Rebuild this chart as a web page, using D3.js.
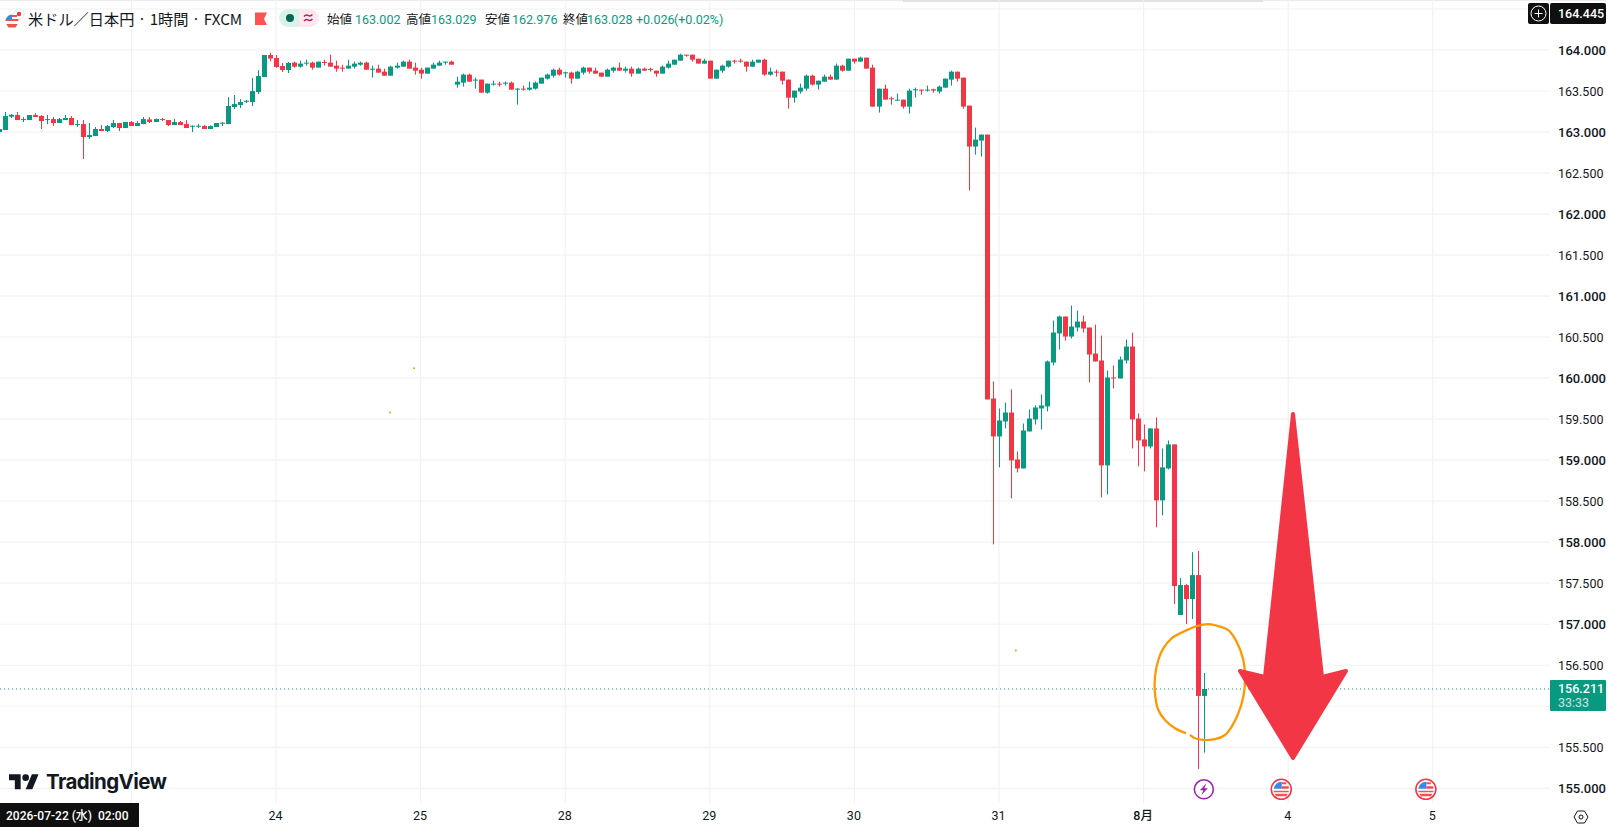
<!DOCTYPE html>
<html>
<head>
<meta charset="utf-8">
<style>
    html, body { margin: 0; background: #fff; }
    svg { display: block; }
    text { font-family: Roboto, "Noto Sans CJK JP", sans-serif; }
</style>
</head>
<body>
<div id="chart"></div>
<script src="https://cdn.jsdelivr.net/npm/d3@7"></script>
<script>
// hour 0 is the 00:00 candle of the 24th
const firstHour = -46

const opens = [
    163.000, 163.024, 163.187, 163.207, 163.146, 163.146, 163.207, 163.195, 163.146, 163.158,
    163.110, 163.146, 163.171, 163.085, 163.097, 162.939, 162.951, 163.037, 163.012, 163.061,
    163.110, 163.049, 163.122, 163.073, 163.097, 163.154,
    163.122, 163.158, 163.146, 163.085, 163.122, 163.097, 163.069, 163.069, 163.073, 163.037,
    163.061, 163.101, 163.097, 163.305, 163.329, 163.369, 163.365, 163.487, 163.670,
    163.939, 163.902, 163.805, 163.756,
    163.846, 163.797, 163.834, 163.846, 163.785, 163.854, 163.846, 163.809, 163.785, 163.773,
    163.797, 163.821, 163.846, 163.760, 163.773, 163.736, 163.687, 163.785, 163.797, 163.858,
    163.785, 163.760, 163.712, 163.773, 163.809, 163.846, 163.858, 163.578, 163.602, 163.700,
    163.631, 163.639, 163.480, 163.578, 163.590, 163.590, 163.602, 163.521, 163.529, 163.517,
    163.529, 163.590, 163.651, 163.687, 163.760, 163.720, 163.724, 163.651, 163.724, 163.785,
    163.748, 163.724, 163.675, 163.748, 163.785, 163.748, 163.773, 163.712, 163.773, 163.769,
    163.748, 163.712, 163.785, 163.821, 163.870, 163.943, 163.943, 163.894, 163.834, 163.870,
    163.651, 163.748, 163.797, 163.870, 163.870, 163.858, 163.797, 163.846, 163.882, 163.700,
    163.736, 163.736, 163.639, 163.419, 163.493, 163.529, 163.687, 163.578, 163.614, 163.675,
    163.639, 163.809, 163.748, 163.894, 163.858, 163.907, 163.785, 163.310, 163.529, 163.411,
    163.383, 163.395, 163.310, 163.513, 163.517, 163.505, 163.521, 163.493, 163.541, 163.639,
    163.736, 163.663, 163.322, 162.823, 162.896, 162.969, 159.752, 159.289, 159.472, 159.581,
    159.009, 158.899, 159.350, 159.496, 159.630, 159.655, 160.190, 160.544, 160.751, 160.507,
    160.617, 160.690, 160.617, 160.300, 160.215, 158.936, 160.008, 159.996, 160.215, 160.385,
    159.508, 159.253, 159.167, 159.387, 158.510, 158.899, 159.192, 157.112, 157.477, 157.307,
    157.599, 156.126
]

const highs = [
    163.037, 163.244, 163.219, 163.244, 163.183, 163.207, 163.231, 163.207, 163.207, 163.183,
    163.171, 163.207, 163.195, 163.146, 163.146, 163.110, 163.061, 163.085, 163.085, 163.146,
    163.110, 163.122, 163.134, 163.134, 163.183, 163.183,
    163.166, 163.171, 163.146, 163.158, 163.134, 163.146, 163.081, 163.097, 163.085, 163.081,
    163.110, 163.122, 163.426, 163.451, 163.402, 163.390, 163.658, 163.755, 163.939,
    163.967, 163.939, 163.842, 163.854,
    163.858, 163.870, 163.882, 163.858, 163.858, 163.882, 163.943, 163.870, 163.821, 163.882,
    163.858, 163.858, 163.858, 163.809, 163.821, 163.773, 163.809, 163.846, 163.870, 163.882,
    163.846, 163.785, 163.785, 163.846, 163.870, 163.858, 163.870, 163.675, 163.712, 163.712,
    163.663, 163.639, 163.590, 163.626, 163.614, 163.614, 163.614, 163.537, 163.566, 163.614,
    163.614, 163.663, 163.712, 163.773, 163.785, 163.736, 163.736, 163.748, 163.797, 163.785,
    163.785, 163.724, 163.773, 163.797, 163.846, 163.797, 163.797, 163.785, 163.785, 163.785,
    163.748, 163.809, 163.870, 163.882, 163.955, 163.943, 163.943, 163.894, 163.894, 163.870,
    163.760, 163.821, 163.870, 163.882, 163.894, 163.858, 163.882, 163.882, 163.894, 163.785,
    163.760, 163.736, 163.639, 163.505, 163.590, 163.700, 163.700, 163.626, 163.700, 163.700,
    163.834, 163.821, 163.894, 163.894, 163.919, 163.907, 163.821, 163.529, 163.578, 163.432,
    163.468, 163.395, 163.529, 163.541, 163.517, 163.566, 163.529, 163.566, 163.651, 163.748,
    163.736, 163.663, 163.322, 163.054, 162.969, 162.969, 159.959, 159.630, 159.703, 159.862,
    159.106, 159.447, 159.618, 159.667, 159.801, 160.215, 160.702, 160.763, 160.751, 160.885,
    160.824, 160.763, 160.617, 160.653, 160.519, 160.093, 160.154, 160.264, 160.471, 160.556,
    159.569, 159.435, 159.387, 159.521, 159.143, 159.240, 159.192, 157.563, 157.490, 157.879,
    157.892, 156.406
]

const lows = [
    162.995, 163.024, 163.171, 163.146, 163.122, 163.146, 163.183, 163.037, 163.097, 163.073,
    163.110, 163.146, 163.085, 163.061, 162.671, 162.915, 162.951, 163.012, 163.000, 163.049,
    163.012, 163.049, 163.073, 163.073, 163.097, 163.110,
    163.122, 163.134, 163.073, 163.085, 163.085, 163.049, 163.000, 163.049, 163.037, 163.037,
    163.061, 163.073, 163.097, 163.280, 163.292, 163.353, 163.317, 163.463, 163.670,
    163.862, 163.784, 163.732, 163.720,
    163.785, 163.785, 163.809, 163.760, 163.785, 163.809, 163.797, 163.736, 163.736, 163.773,
    163.773, 163.809, 163.760, 163.663, 163.724, 163.687, 163.687, 163.773, 163.797, 163.773,
    163.700, 163.651, 163.712, 163.773, 163.809, 163.821, 163.821, 163.541, 163.553, 163.614,
    163.529, 163.480, 163.468, 163.566, 163.553, 163.566, 163.517, 163.334, 163.505, 163.505,
    163.517, 163.590, 163.639, 163.663, 163.687, 163.663, 163.590, 163.651, 163.700, 163.712,
    163.712, 163.675, 163.675, 163.724, 163.748, 163.724, 163.675, 163.712, 163.748, 163.736,
    163.675, 163.712, 163.773, 163.821, 163.870, 163.919, 163.858, 163.834, 163.834, 163.651,
    163.651, 163.724, 163.785, 163.834, 163.846, 163.736, 163.797, 163.846, 163.687, 163.687,
    163.675, 163.578, 163.285, 163.359, 163.468, 163.505, 163.566, 163.517, 163.614, 163.639,
    163.639, 163.736, 163.748, 163.834, 163.858, 163.773, 163.310, 163.237, 163.395, 163.334,
    163.383, 163.285, 163.225, 163.419, 163.456, 163.493, 163.480, 163.468, 163.541, 163.566,
    163.614, 163.285, 162.287, 162.725, 162.701, 159.740, 157.974, 158.912, 159.387, 158.534,
    158.851, 158.899, 159.350, 159.435, 159.374, 159.594, 160.154, 160.349, 160.458, 160.483,
    160.568, 160.556, 159.947, 160.203, 158.546, 158.583, 159.874, 159.996, 160.178, 159.143,
    158.924, 158.863, 159.143, 158.181, 158.327, 158.887, 157.246, 157.112, 157.002, 157.063,
    155.236, 155.435
]

const closes = [
    163.037, 163.195, 163.211, 163.146, 163.158, 163.207, 163.183, 163.134, 163.158, 163.110,
    163.158, 163.171, 163.085, 163.097, 162.939, 162.963, 163.037, 163.012, 163.073, 163.110,
    163.049, 163.122, 163.073, 163.110, 163.158, 163.122,
    163.158, 163.150, 163.085, 163.122, 163.085, 163.049, 163.077, 163.077, 163.037, 163.073,
    163.110, 163.114, 163.317, 163.341, 163.365, 163.382, 163.499, 163.682, 163.939,
    163.896, 163.793, 163.756, 163.842,
    163.797, 163.834, 163.846, 163.785, 163.858, 163.842, 163.797, 163.773, 163.773, 163.809,
    163.834, 163.846, 163.760, 163.773, 163.724, 163.687, 163.797, 163.809, 163.858, 163.773,
    163.748, 163.712, 163.785, 163.821, 163.846, 163.858, 163.821, 163.614, 163.700, 163.614,
    163.639, 163.480, 163.590, 163.590, 163.582, 163.602, 163.517, 163.529, 163.521, 163.541,
    163.602, 163.663, 163.700, 163.760, 163.700, 163.728, 163.651, 163.736, 163.785, 163.736,
    163.712, 163.675, 163.760, 163.785, 163.748, 163.773, 163.712, 163.773, 163.748, 163.756,
    163.712, 163.797, 163.834, 163.882, 163.943, 163.935, 163.882, 163.834, 163.870, 163.651,
    163.760, 163.809, 163.870, 163.862, 163.862, 163.797, 163.858, 163.882, 163.700, 163.736,
    163.724, 163.626, 163.419, 163.505, 163.541, 163.687, 163.578, 163.626, 163.675, 163.639,
    163.809, 163.748, 163.894, 163.858, 163.907, 163.773, 163.310, 163.529, 163.395, 163.403,
    163.395, 163.310, 163.505, 163.521, 163.509, 163.517, 163.505, 163.553, 163.651, 163.736,
    163.651, 163.310, 162.823, 162.908, 162.969, 159.740, 159.289, 159.484, 159.581, 158.997,
    158.899, 159.362, 159.508, 159.642, 159.667, 160.203, 160.556, 160.751, 160.507, 160.629,
    160.690, 160.605, 160.288, 160.203, 158.936, 160.008, 159.996, 160.227, 160.385, 159.496,
    159.240, 159.167, 159.387, 158.510, 158.912, 159.192, 157.465, 157.477, 157.307, 157.599,
    156.126, 156.211
]

const priceTicks = [164, 163.5, 163, 162.5, 162, 161.5, 161, 160.5, 160, 159.5, 159, 158.5, 158, 157.5, 157, 156.5, 155.5, 155]
const gridOnlyPrices = [164.5, 156]
const dayHours = [-24, 0, 24, 48, 72, 96, 120, 144, 168, 192]
const dayLabels = ["23", "24", "25", "28", "29", "30", "31", "8月", "4", "5"]

const lastPrice = 156.211
const topPrice = 164.445
const countdown = "33:33"

// hand drawn annotations, in chart units
const circleHours = [151.7, 152.53, 153.91, 155.85, 157.51, 158.62, 159.72, 160.55, 160.83, 160.55, 159.44, 158.06, 156.4, 154.74, 152.81, 150.59, 148.66, 147.27, 146.44, 145.89, 145.89, 146.44, 147.55, 149.21, 151.04]
const circlePrices = [155.65, 155.61, 155.59, 155.598, 155.65, 155.752, 155.914, 156.117, 156.32, 156.564, 156.787, 156.929, 156.978, 157.002, 156.978, 156.909, 156.828, 156.706, 156.564, 156.361, 156.158, 155.955, 155.833, 155.732, 155.671]
const arrowHours = [168.8, 173.61, 177.59, 168.8, 160.0, 164.15]
const arrowPrices = [159.563, 156.356, 156.43, 155.369, 156.43, 156.356]
const dotHours = [22.9, 18.9, 122.8]
const dotPrices = [160.12, 159.58, 156.68]
const eventHours = [166.85, 190.85]
const boltHour = 154

const legendLabels = ["始値", "高値", "安値", "終値"]
const legendValues = ["163.002", "163.029", "162.976", "163.028"]

const width = 1611
const height = 831
const paneRight = 1550
const paneBottom = 803
const green = "#089981"
const red = "#f23645"
const dark = "#131722"

const x = d3.scaleLinear().domain([0, 192]).range([276, 1432.8])
const y = d3.scaleLinear().domain([155, 164]).range([788.3, 50])

const svg = d3.select("#chart")
    .append("svg")
    .attr("width", width)
    .attr("height", height)

svg.append("rect").attr("width", width).attr("height", height).attr("fill", "#fff")

// thin edge of the toolbar above the chart
svg.append("rect").attr("width", 1606).attr("height", 1).attr("fill", "#ebebeb")
svg.append("rect").attr("x", 903).attr("width", 360).attr("height", 2).attr("fill", "#e2e2e2")

//gridlines
svg.append("g")
    .selectAll("line")
    .data(priceTicks.concat(gridOnlyPrices))
    .join("line")
    .attr("x1", 0)
    .attr("x2", paneRight)
    .attr("y1", d => y(d))
    .attr("y2", d => y(d))
    .attr("stroke", "#f2f2f3")
    .attr("stroke-width", 1.2)

svg.append("g")
    .selectAll("line")
    .data(dayHours)
    .join("line")
    .attr("x1", d => x(d))
    .attr("x2", d => x(d))
    .attr("y1", 0)
    .attr("y2", paneBottom)
    .attr("stroke", "#f2f2f3")
    .attr("stroke-width", 1.2)

//last price line
svg.append("line")
    .attr("x1", 0)
    .attr("x2", paneRight)
    .attr("y1", y(lastPrice))
    .attr("y2", y(lastPrice))
    .attr("stroke", green)
    .attr("stroke-dasharray", "1 3")

//candles
const candles = opens.map((o, i) => ({ hour: firstHour + i, o, h: highs[i], l: lows[i], c: closes[i] }))
const color = d => d.c >= d.o ? green : red
const snap = d => Math.round(x(d.hour))

const candle = svg.append("g")
    .selectAll("g")
    .data(candles)
    .join("g")

candle.append("line")
    .attr("x1", d => snap(d) + 0.5)
    .attr("x2", d => snap(d) + 0.5)
    .attr("y1", d => y(d.h))
    .attr("y2", d => y(d.l))
    .attr("stroke", color)
    .attr("stroke-width", 1)

candle.append("rect")
    .attr("x", d => snap(d) - 2)
    .attr("width", 5)
    .attr("y", d => y(Math.max(d.o, d.c)))
    .attr("height", d => Math.max(1, Math.abs(y(d.o) - y(d.c))))
    .attr("fill", color)

//stray orange marks
svg.append("g")
    .selectAll("circle")
    .data(dotHours)
    .join("circle")
    .attr("cx", d => x(d))
    .attr("cy", (d, i) => y(dotPrices[i]))
    .attr("r", 1)
    .attr("fill", "#ff9800")

//orange circle
svg.append("path")
    .datum(circleHours.map((h, i) => [h, circlePrices[i]]))
    .attr("fill", "none")
    .attr("stroke", "#ff9800")
    .attr("stroke-width", 2.3)
    .attr("d", d3.line().x(d => x(d[0])).y(d => y(d[1])).curve(d3.curveCatmullRom))

//big arrow
svg.append("path")
    .datum(arrowHours.map((h, i) => [h, arrowPrices[i]]))
    .attr("fill", red)
    .attr("stroke", red)
    .attr("stroke-width", 4)
    .attr("stroke-linejoin", "round")
    .attr("d", d => d3.line().x(p => x(p[0])).y(p => y(p[1]))(d) + "Z")

//price axis
const priceAxis = svg.append("g")
    .attr("transform", `translate(${paneRight + 8}, 0)`)
    .call(d3.axisRight(y)
        .tickValues(priceTicks)
        .tickFormat(d3.format(".3f"))
        .tickSize(0)
        .tickPadding(0))
    .call(g => g.select(".domain").remove())

priceAxis.selectAll(".tick text")
    .attr("fill", dark)
    .style("font-size", d => Number.isInteger(d) ? "13px" : "12.5px")
    .style("font-weight", d => Number.isInteger(d) ? 500 : 400)

//time axis
const timeAxis = svg.append("g")
    .attr("transform", `translate(-1, ${paneBottom})`)
    .call(d3.axisBottom(x)
        .tickValues(dayHours.slice(1))
        .tickFormat((d, i) => dayLabels[i + 1])
        .tickSize(0)
        .tickPadding(8))
    .call(g => g.select(".domain").remove())

timeAxis.selectAll(".tick text")
    .attr("fill", dark)
    .style("font-size", "12.5px")
    .style("font-weight", d => d == 144 ? 500 : 400)
    .style("font-family", "Roboto, 'Noto Sans CJK JP', sans-serif")

//top price box
svg.append("rect").attr("x", 1528).attr("y", 3).attr("width", 21).attr("height", 21).attr("rx", 2).attr("fill", "#0f0f0f")
svg.append("circle").attr("cx", 1538.5).attr("cy", 13.5).attr("r", 7.5).attr("fill", "none").attr("stroke", "#fff")
svg.append("path").attr("d", "M1534.5 13.5h8M1538.5 9.5v8").attr("stroke", "#fff")
svg.append("rect").attr("x", 1550).attr("y", 3).attr("width", 56).attr("height", 21).attr("rx", 2).attr("fill", "#0f0f0f")
svg.append("text").attr("x", 1558).attr("y", 18).attr("fill", "#fff")
    .style("font-size", "12.5px").style("font-weight", 500).text(d3.format(".3f")(topPrice))

//last price box
svg.append("rect").attr("x", 1550).attr("y", y(lastPrice) - 9).attr("width", 56).attr("height", 31).attr("rx", 1).attr("fill", green)
svg.append("text").attr("x", 1558).attr("y", y(lastPrice) + 4.5).attr("fill", "#fff")
    .style("font-size", "12.5px").style("font-weight", 500).text(d3.format(".3f")(lastPrice))
svg.append("text").attr("x", 1558).attr("y", y(lastPrice) + 18.5).attr("fill", "#fff").attr("opacity", 0.75)
    .style("font-size", "12.5px").text(countdown)

//event icons
const eventY = y(155) + 1
const flag = svg.append("g")
    .selectAll("g")
    .data(eventHours)
    .join("g")
    .attr("transform", d => `translate(${x(d)}, ${eventY})`)

flag.append("circle").attr("r", 10).attr("fill", "#fff").attr("stroke", red).attr("stroke-width", 1.6)
flag.append("path").attr("d", "M-7.5 -0.5A7.5 7.5 0 0 1 0.5 -7.5V-0.5Z").attr("fill", "#2f8cf0")
flag.append("path").attr("d", "M0.5 -7H5V-5H0.5ZM0.5 -3H7.5V-0.5H0.5ZM-7.5 1.5H7.5V3H-7.5ZM-6.5 4.5H6.5L5 7H-5Z").attr("fill", "#ef5350")

svg.append("circle")
    .attr("cx", x(boltHour))
    .attr("cy", eventY)
    .attr("r", 9.5)
    .attr("fill", "#fff")
    .attr("stroke", "#9c27b0")
    .attr("stroke-width", 1.6)
svg.append("path")
    .attr("transform", `translate(${x(boltHour)}, ${eventY})`)
    .attr("d", "M2.5 -6L-4 1H-0.5L-2.5 6L4 -1H0.5Z")
    .attr("fill", "#9c27b0")

//date box
svg.append("rect").attr("y", paneBottom).attr("width", 139).attr("height", 24).attr("fill", "#0f0f0f")
svg.append("text").attr("x", 6).attr("y", paneBottom + 16.5).attr("fill", "#fff")
    .style("font-size", "12px").style("font-weight", 500).style("white-space", "pre")
    .text("2026-07-22 (水)  02:00")

//settings icon
svg.append("path")
    .attr("transform", "translate(1581, 817)")
    .attr("d", "M-7 0L-3.5 -6H3.5L7 0L3.5 6H-3.5Z")
    .attr("fill", "none")
    .attr("stroke", dark)
svg.append("circle").attr("cx", 1581).attr("cy", 817).attr("r", 2).attr("fill", "none").attr("stroke", dark)

//logo
svg.append("path")
    .attr("transform", "translate(9, 771) scale(0.833)")
    .attr("d", "M14 22H7V11H0V4h14v18zM28 22h-8l7.5-18h8L28 22z")
    .attr("fill", dark)
svg.append("circle").attr("cx", 9 + 20 * 0.833).attr("cy", 771 + 8 * 0.833).attr("r", 3.3).attr("fill", dark)
svg.append("text").attr("x", 46).attr("y", 789).attr("fill", dark)
    .style("font-family", "Inter").style("font-size", "20.5px").style("font-weight", 700)
    .style("letter-spacing", "-0.6px").text("TradingView")

//header
const header = svg.append("g")
header.append("circle").attr("cx", 19).attr("cy", 14).attr("r", 5).attr("fill", "#fff").attr("stroke", "#e6e6ee")
header.append("circle").attr("cx", 19).attr("cy", 14).attr("r", 2.2).attr("fill", "#f23645")
header.append("circle").attr("cx", 12).attr("cy", 21).attr("r", 6.5).attr("fill", "#fff")
header.append("path").attr("d", "M5.5 21A6.5 6.5 0 0 1 12 14.5V20H5.5Z").attr("fill", "#2f8cf0")
header.append("path").attr("d", "M12 15H17V17H12ZM12 19H18.5V21H5.5V20H12ZM6.3 24H17.7L15.5 27.5H8.5Z").attr("fill", "#ef5350")

header.append("text").attr("x", 28).attr("y", 25).attr("fill", dark)
    .style("font-family", "'Noto Sans CJK JP'").style("font-size", "15.2px")
    .text("米ドル／日本円 · 1時間 · FXCM")

header.append("path").attr("d", "M255 12.5H267L264 19L267 25H255Z").attr("fill", "#ff5252")

header.append("path").attr("d", "M299 9H288A9 9 0 0 0 288 27H299Z").attr("fill", "#daf1ec")
header.append("path").attr("d", "M299 9H310A9 9 0 0 1 310 27H299Z").attr("fill", "#fde8ef")
header.append("circle").attr("cx", 290).attr("cy", 18).attr("r", 4).attr("fill", "#056656")
header.append("path")
    .attr("d", "M304 16.5q2.2 -2.5 4.2 -1t4.2 -1M304 21q2.2 -2.5 4.2 -1t4.2 -1")
    .attr("fill", "none").attr("stroke", "#b2185b").attr("stroke-width", 1.4)

header.selectAll(".lbl")
    .data(legendLabels)
    .join("text")
    .attr("x", (d, i) => [327, 406, 485, 563][i])
    .attr("y", 23.5)
    .attr("fill", dark)
    .style("font-family", "'Noto Sans CJK JP'")
    .style("font-size", "12.5px")
    .text(d => d)

header.selectAll(".val")
    .data(legendValues)
    .join("text")
    .attr("x", (d, i) => [355, 431, 512, 587][i])
    .attr("y", 23.5)
    .attr("fill", green)
    .style("font-size", "12.5px")
    .text(d => d)

header.append("text").attr("x", 636).attr("y", 23.5).attr("fill", green).style("font-size", "12.5px").text("+0.026")
header.append("text").attr("x", 674).attr("y", 23.5).attr("fill", green).style("font-size", "12.5px").text("(+0.02%)")
</script>
</body>
</html>
